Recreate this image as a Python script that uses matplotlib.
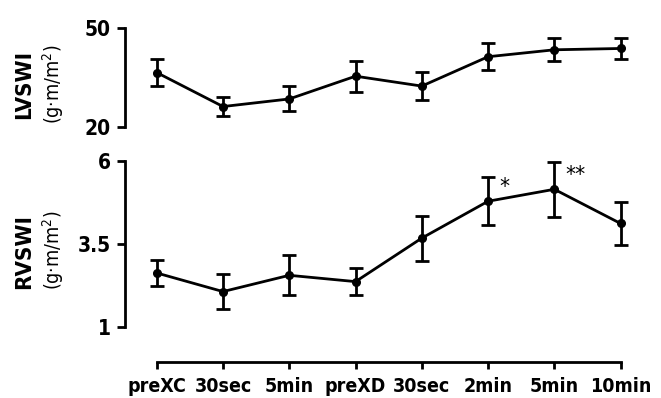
import matplotlib
matplotlib.use("Agg")
import matplotlib.pyplot as plt
import numpy as np

# categories along the shared time axis
labels = ['preXC', '30sec', '5min', 'preXD', '30sec', '2min', '5min', '10min']

# LVSWI (g.m/m2), mean and SE
lv_mean = [36.5, 26.2, 28.5, 35.4, 32.4, 41.3, 43.4, 43.8]
lv_err = [4.0, 3.0, 3.8, 4.7, 4.2, 4.1, 3.5, 3.2]

# RVSWI (g.m/m2), mean and SE
rv_mean = [2.63, 2.07, 2.56, 2.37, 3.68, 4.79, 5.15, 4.12]
rv_err = [0.40, 0.52, 0.60, 0.40, 0.68, 0.72, 0.82, 0.65]

# significance marks on the RVSWI series
rv_marks = {5: '*', 6: '**'}

plt.rcParams['font.family'] = 'DejaVu Sans'
plt.rcParams['font.stretch'] = 'condensed'

fig = plt.figure(figsize=(6.61, 3.98), dpi=100)
ax1 = fig.add_axes([0.189, 0.6809, 0.795, 0.2487])
ax2 = fig.add_axes([0.189, 0.0905, 0.795, 0.5215])

x = np.arange(len(labels))
style = dict(color='black', lw=2, marker='o', ms=5.5, capsize=5,
             elinewidth=2, capthick=2, clip_on=False)

ax1.errorbar(x, lv_mean, yerr=lv_err, **style)
ax2.errorbar(x, rv_mean, yerr=rv_err, **style)

for i, s in rv_marks.items():
    ax2.annotate(s, (x[i], rv_mean[i]), xytext=(8, 10),
                 textcoords='offset points', fontsize=16,
                 ha='left', va='center')

for ax in (ax1, ax2):
    ax.set_xlim(-0.48, 7.45)
    ax.spines['top'].set_visible(False)
    ax.spines['right'].set_visible(False)
    ax.spines['left'].set_linewidth(2)
    ax.tick_params(axis='y', direction='out', length=6, width=2,
                   labelsize=15, pad=4)
    for t in ax.get_yticklabels():
        t.set_fontweight('bold')

ax1.set_ylim(20, 50)
ax1.set_yticks([20, 50])
ax1.set_yticklabels(['20', '50'], fontweight='bold')
ax1.spines['bottom'].set_visible(False)
ax1.tick_params(axis='x', bottom=False, labelbottom=False)

ax2.set_ylim(-0.05, 6.2)
ax2.set_yticks([1, 3.5, 6])
ax2.set_yticklabels(['1', '3.5', '6'], fontweight='bold')
ax2.spines['left'].set_bounds(1, 6)
ax2.spines['bottom'].set_bounds(0, 7)
ax2.spines['bottom'].set_linewidth(2)
ax2.set_xticks(x)
ax2.set_xticklabels(labels, fontweight='bold')
ax2.tick_params(axis='x', direction='out', length=5, width=2,
                labelsize=14, pad=6)

fig.text(0.036, 0.789, 'LVSWI', rotation=90, ha='center', va='center',
         fontsize=16, fontweight='bold')
fig.text(0.080, 0.789, '(g\u00b7m/m$^2$)', rotation=90, ha='center', va='center',
         fontsize=14)
fig.text(0.036, 0.369, 'RVSWI', rotation=90, ha='center', va='center',
         fontsize=16, fontweight='bold')
fig.text(0.080, 0.372, '(g\u00b7m/m$^2$)', rotation=90, ha='center', va='center',
         fontsize=14)

fig.savefig('out.png', dpi=100)
